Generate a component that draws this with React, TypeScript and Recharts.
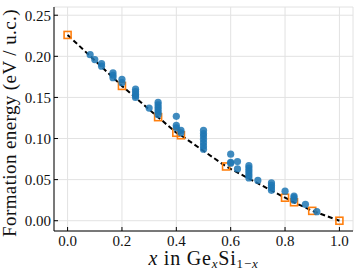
import React from 'react';
import { ComposedChart, Scatter, Line, XAxis, YAxis, CartesianGrid } from 'recharts';

// compositions sampled (blue) and the convex hull (orange squares)
const blueX = [
  0.083, 0.1, 0.125, 0.125, 0.167, 0.167, 0.167, 0.2, 0.2,
  0.25, 0.25, 0.25, 0.25, 0.25, 0.3,
  0.333, 0.333, 0.333, 0.333, 0.333, 0.333,
  0.4, 0.4, 0.4, 0.417, 0.417,
  0.5, 0.5, 0.5, 0.5, 0.5, 0.5, 0.5,
  0.6, 0.6, 0.6, 0.625, 0.625,
  0.667, 0.667, 0.667, 0.667, 0.667, 0.667, 0.7,
  0.75, 0.75, 0.75, 0.75, 0.8, 0.833, 0.833, 0.833, 0.875, 0.917,
];
const blueY = [
  0.202, 0.196, 0.191, 0.188, 0.18, 0.177, 0.174, 0.172, 0.168,
  0.16, 0.157, 0.154, 0.152, 0.15, 0.137,
  0.144, 0.141, 0.138, 0.135, 0.132, 0.129,
  0.127, 0.116, 0.113, 0.11, 0.107,
  0.11, 0.106, 0.103, 0.099, 0.095, 0.091, 0.087,
  0.081, 0.071, 0.07, 0.072, 0.063,
  0.067, 0.064, 0.061, 0.058, 0.055, 0.052, 0.049,
  0.046, 0.043, 0.04, 0.037, 0.036, 0.03, 0.028, 0.025, 0.02, 0.011,
];
const hullX = [0, 0.2, 0.333, 0.4, 0.417, 0.583, 0.8, 0.833, 0.9, 1.0];
const hullY = [0.226, 0.164, 0.126, 0.107, 0.104, 0.066, 0.028, 0.0225, 0.012, 0];

const xTicks = [0, 0.2, 0.4, 0.6, 0.8, 1.0];
const yTicks = [0, 0.05, 0.1, 0.15, 0.2, 0.25];

const blueData = blueX.map((x, i) => ({ x, y: blueY[i] }));
const hullData = hullX.map((x, i) => ({ x, y: hullY[i] }));

const FONT = '"Liberation Serif", "Times New Roman", serif';
const xDomain = [-0.05, 1.05];
const yDomain = [-0.0125, 0.26];

const Dot = (p: any) => <circle cx={p.cx} cy={p.cy} r={3.6} fill="#1f77b4" fillOpacity={0.85} />;
const Square = (p: any) => (
  <rect x={p.cx - 3.5} y={p.cy - 3.5} width={7} height={7} fill="none" stroke="#ff7f0e" strokeWidth={1.6} />
);

const XTick = (p: any) => (
  <text x={p.x} y={p.y} dy="0.71em" textAnchor="middle" style={{ fontFamily: FONT, fontSize: 15 }} fill="#111">
    {Number(p.payload.value).toFixed(1)}
  </text>
);
const YTick = (p: any) => (
  <text x={p.x} y={p.y} dy="0.355em" textAnchor="end" style={{ fontFamily: FONT, fontSize: 15 }} fill="#111">
    {Number(p.payload.value).toFixed(2)}
  </text>
);

const XLabel = () => (
  <text x={203.5} y={265} textAnchor="middle" fontFamily={FONT} fontSize={20} letterSpacing={0.8} fill="#111">
    <tspan fontStyle="italic">x</tspan>
    <tspan> in Ge</tspan>
    <tspan fontStyle="italic" fontSize={13} dy={3}>x</tspan>
    <tspan dy={-3}>Si</tspan>
    <tspan fontSize={13} dy={3}>1−</tspan>
    <tspan fontStyle="italic" fontSize={13}>x</tspan>
  </text>
);

const YLabel = () => (
  <text transform="rotate(-90)" x={-123} y={16} textAnchor="middle" fontFamily={FONT} fontSize={19} letterSpacing={0.4} fill="#111">
    Formation energy (eV / u.c.)
  </text>
);

export default function App() {
  return (
    <div style={{ position: 'absolute', left: 0, top: 0 }}>
      <ComposedChart width={354} height={270} margin={{ top: 7, right: 1, bottom: 0, left: 0 }}>
        <CartesianGrid stroke="#e2e2e2" strokeWidth={1} />
        <XAxis
          dataKey="x" type="number" domain={xDomain} ticks={xTicks} allowDataOverflow
          height={39} tickSize={-4} tickMargin={8} tick={XTick}
          axisLine={{ stroke: '#000' }} tickLine={{ stroke: '#000' }}
          label={<XLabel />}
        />
        <XAxis
          xAxisId="top" orientation="top" dataKey="x" type="number" domain={xDomain} ticks={xTicks}
          allowDataOverflow height={0} tickSize={-4} tickFormatter={() => ''}
          axisLine={{ stroke: '#000' }} tickLine={{ stroke: '#000' }}
        />
        <YAxis
          type="number" domain={yDomain} ticks={yTicks} allowDataOverflow
          width={54} tickSize={-4} tickMargin={7} tick={YTick}
          axisLine={{ stroke: '#000' }} tickLine={{ stroke: '#000' }}
          label={<YLabel />}
        />
        <YAxis
          yAxisId="right" orientation="right" type="number" domain={yDomain} ticks={yTicks}
          allowDataOverflow width={0} tickSize={-4} tickFormatter={() => ''}
          axisLine={{ stroke: '#000' }} tickLine={{ stroke: '#000' }}
        />
        <Scatter data={hullData} dataKey="y" shape={Square} isAnimationActive={false} />
        <Scatter data={blueData} dataKey="y" shape={Dot} isAnimationActive={false} />
        <Line
          data={hullData} dataKey="y" type="linear" stroke="#000" strokeWidth={2}
          strokeDasharray="5 3" dot={false} activeDot={false} isAnimationActive={false}
        />
      </ComposedChart>
    </div>
  );
}
